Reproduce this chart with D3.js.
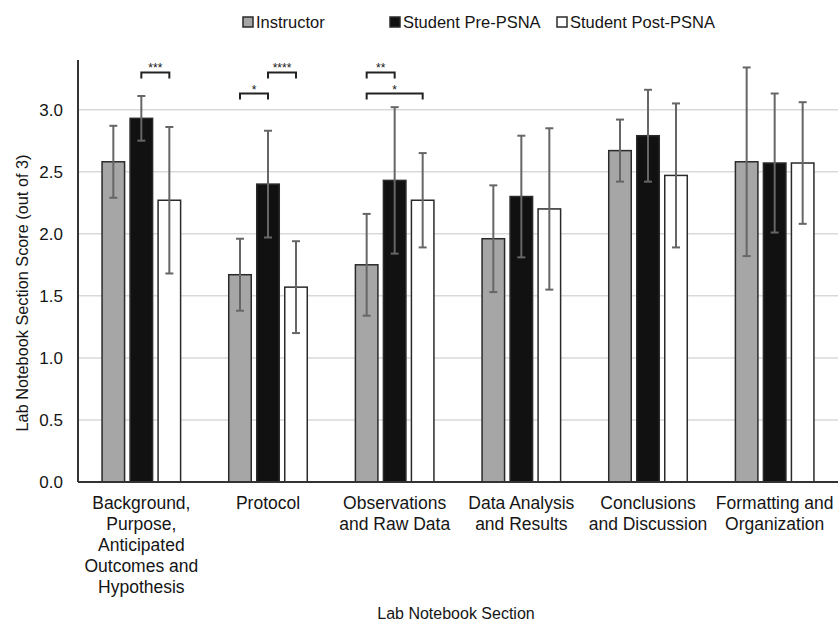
<!DOCTYPE html>
<html>
<head>
<meta charset="utf-8">
<script src="https://cdn.jsdelivr.net/npm/d3@7"></script>
<style>
  body { margin: 0; background: #fff; }
  text { font-family: "Liberation Sans", Arial, sans-serif; fill: #151515; }
</style>
</head>
<body>
<div class="chart"></div>
<script>
// sections on the x axis (line breaks as in the original)
var categories = [
    "Background,\nPurpose,\nAnticipated\nOutcomes and\nHypothesis",
    "Protocol",
    "Observations\nand Raw Data",
    "Data Analysis\nand Results",
    "Conclusions\nand Discussion",
    "Formatting and\nOrganization"
];

var series = ["Instructor", "Student Pre-PSNA", "Student Post-PSNA"];

// means and error bar half-lengths
var instructorMean = [2.58, 1.67, 1.75, 1.96, 2.67, 2.58];
var instructorErr  = [0.29, 0.29, 0.41, 0.43, 0.25, 0.76];
var preMean  = [2.93, 2.40, 2.43, 2.30, 2.79, 2.57];
var preErr   = [0.18, 0.43, 0.59, 0.49, 0.37, 0.56];
var postMean = [2.27, 1.57, 2.27, 2.20, 2.47, 2.57];
var postErr  = [0.59, 0.37, 0.38, 0.65, 0.58, 0.49];

var yTicks = [0, 0.5, 1.0, 1.5, 2.0, 2.5, 3.0];

// significance brackets: section, from series, to series, height, label
var sigSection = [0, 1, 1, 2, 2];
var sigFrom    = [1, 0, 1, 0, 0];
var sigTo      = [2, 1, 2, 1, 2];
var sigLevel   = [3.30, 3.13, 3.30, 3.30, 3.13];
var sigLabel   = ["***", "*", "****", "**", "*"];

var means = [instructorMean, preMean, postMean];
var errs = [instructorErr, preErr, postErr];
var fills = ["#a6a6a6", "#111111", "#ffffff"];

const svg = d3.select(".chart").append("svg")
    .attr("width", 838)
    .attr("height", 621);

const margin = {top: 60, right: 0, bottom: 139, left: 78};
const graphWidth = 838 - margin.left - margin.right;
const graphHeight = 621 - margin.top - margin.bottom;

const g = svg.append("g")
    .attr("transform", `translate(${margin.left}, ${margin.top})`);

var y = d3.scaleLinear()
    .domain([0, 3.4])
    .range([graphHeight, 0]);

var x0 = d3.scaleBand()
    .domain(d3.range(categories.length))
    .range([0, graphWidth])
    .paddingInner(0.38)
    .paddingOuter(0.19);

var x1 = d3.scaleBand()
    .domain(d3.range(series.length))
    .range([0, x0.bandwidth()])
    .paddingInner(0.196);

// gridlines
g.selectAll(".grid")
    .data(yTicks.filter(d => d > 0))
    .enter()
    .append("line")
    .attr("x1", 0)
    .attr("x2", graphWidth)
    .attr("y1", d => y(d))
    .attr("y2", d => y(d))
    .attr("stroke", "#d9d9d9")
    .attr("stroke-width", 1.5);

// y tick labels
g.selectAll(".ylab")
    .data(yTicks)
    .enter()
    .append("text")
    .attr("x", -15)
    .attr("y", d => y(d) + 6)
    .attr("text-anchor", "end")
    .style("font-size", "17px")
    .text(d => d3.format(".1f")(d));

// bars + error bars
var groups = g.selectAll(".section")
    .data(categories)
    .enter()
    .append("g")
    .attr("transform", (d, i) => `translate(${x0(i)}, 0)`);

series.forEach(function(s, si) {
    groups.append("rect")
        .attr("x", x1(si))
        .attr("width", x1.bandwidth())
        .attr("y", (d, i) => y(means[si][i]))
        .attr("height", (d, i) => graphHeight - y(means[si][i]))
        .attr("fill", fills[si])
        .attr("stroke", "#2a2a2a")
        .attr("stroke-width", 1.5);
});

series.forEach(function(s, si) {
    var cx = x1(si) + x1.bandwidth() / 2;
    var eb = groups.append("g")
        .attr("stroke", "#666")
        .attr("stroke-width", 2);
    eb.append("line")
        .attr("x1", cx).attr("x2", cx)
        .attr("y1", (d, i) => y(means[si][i] + errs[si][i]))
        .attr("y2", (d, i) => y(means[si][i] - errs[si][i]));
    eb.append("line")
        .attr("x1", cx - 4).attr("x2", cx + 4)
        .attr("y1", (d, i) => y(means[si][i] + errs[si][i]))
        .attr("y2", (d, i) => y(means[si][i] + errs[si][i]));
    eb.append("line")
        .attr("x1", cx - 4).attr("x2", cx + 4)
        .attr("y1", (d, i) => y(means[si][i] - errs[si][i]))
        .attr("y2", (d, i) => y(means[si][i] - errs[si][i]));
});

// significance brackets
sigSection.forEach(function(sec, k) {
    var xa = x0(sec) + x1(sigFrom[k]) + x1.bandwidth() / 2;
    var xb = x0(sec) + x1(sigTo[k]) + x1.bandwidth() / 2;
    var yy = y(sigLevel[k]);
    g.append("path")
        .attr("d", `M${xa},${yy + 6}V${yy}H${xb}V${yy + 6}`)
        .attr("fill", "none")
        .attr("stroke", "#222")
        .attr("stroke-width", 2);
    g.append("text")
        .attr("x", (xa + xb) / 2)
        .attr("y", yy)
        .attr("text-anchor", "middle")
        .style("font-size", "12px")
        .text(sigLabel[k]);
});

// axes lines
g.append("line")
    .attr("x1", 0).attr("x2", 0)
    .attr("y1", 0).attr("y2", graphHeight)
    .attr("stroke", "#333").attr("stroke-width", 2);
g.append("line")
    .attr("x1", 0).attr("x2", graphWidth)
    .attr("y1", graphHeight).attr("y2", graphHeight)
    .attr("stroke", "#333").attr("stroke-width", 2);

// category labels
var catText = g.selectAll(".cat")
    .data(categories)
    .enter()
    .append("text")
    .attr("text-anchor", "middle")
    .attr("transform", (d, i) => `translate(${x0(i) + x0.bandwidth() / 2}, ${graphHeight + 27})`)
    .style("font-size", "17.5px");

catText.selectAll("tspan")
    .data(d => d.split("\n"))
    .enter()
    .append("tspan")
    .attr("x", 0)
    .attr("y", (d, i) => i * 21)
    .text(d => d);

// axis titles
svg.append("text")
    .attr("x", margin.left + graphWidth / 2 - 2)
    .attr("y", 619)
    .attr("text-anchor", "middle")
    .style("font-size", "16px")
    .text("Lab Notebook Section");

svg.append("text")
    .attr("transform", "translate(28, 293) rotate(-90)")
    .attr("text-anchor", "middle")
    .style("font-size", "16.3px")
    .text("Lab Notebook Section Score (out of 3)");

// legend
var legendX = [243, 390, 557];
var legend = svg.selectAll(".legend")
    .data(series)
    .enter()
    .append("g")
    .attr("transform", (d, i) => `translate(${legendX[i]}, 17)`);

legend.append("rect")
    .attr("width", 10)
    .attr("height", 10)
    .attr("fill", (d, i) => fills[i])
    .attr("stroke", "#2a2a2a")
    .attr("stroke-width", 1.5);

legend.append("text")
    .attr("x", 13)
    .attr("y", 11)
    .style("font-size", "16.5px")
    .text(d => d);
</script>
</body>
</html>
